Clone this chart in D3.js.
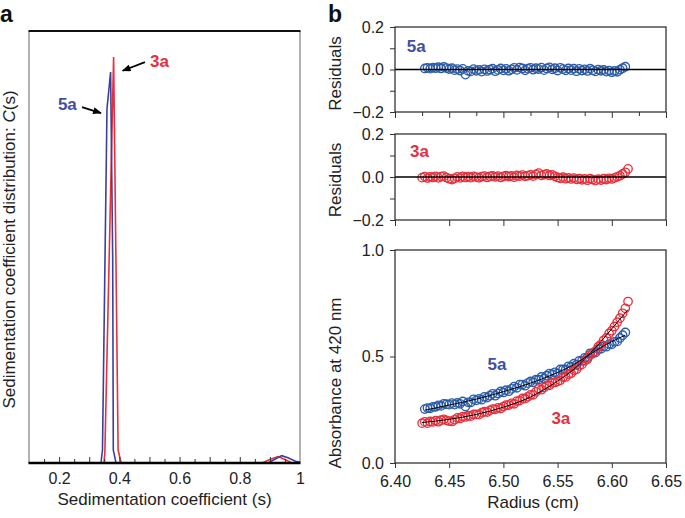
<!DOCTYPE html>
<html><head><meta charset="utf-8">
<script src="https://cdn.jsdelivr.net/npm/d3@7"></script>
<style>
html,body{margin:0;padding:0;background:#fff;}
svg{display:block;font-family:"Liberation Sans",Arial,Helvetica,sans-serif;}
</style></head><body>
<svg id="chart" width="685" height="518"></svg>
<script>
// ---------- Panel a data: sedimentation coefficient distribution C(s) ----------
const sBlue = [0.10, 0.33, 0.339, 0.344, 0.359, 0.371, 0.378, 0.380, 0.389, 0.85, 0.894, 0.915, 0.939, 0.96, 0.985, 1.0];
const cBlue = [0, 0, 0, 0.03, 0.82, 0.905, 0.47, 0.03, 0, 0, 0, 0.008, 0.017, 0.012, 0.004, 0.002];
const sRed  = [0.10, 0.349, 0.352, 0.381, 0.396, 0.406, 0.85, 0.874, 0.90, 0.927, 0.95, 0.973, 1.0];
const cRed  = [0, 0, 0.025, 0.94, 0.03, 0, 0, 0, 0.008, 0.015, 0.008, 0, 0];
const aTickLabels = [0.2, 0.4, 0.6, 0.8, 1];
const aMajorTicks = [0.2, 0.3, 0.4, 0.5, 0.6, 0.7, 0.8, 0.9];
const aMinorTicks = [0.15, 0.25, 0.35, 0.45, 0.55, 0.65, 0.75, 0.85, 0.95];

// ---------- Panel b data ----------
const radius5a = [6.4275,6.43,6.4325,6.435,6.4375,6.44,6.4425,6.445,6.4475,6.45,6.4525,6.455,6.4575,6.46,6.4625,6.465,6.4675,6.47,6.4725,6.475,6.4775,6.48,6.4825,6.485,6.4875,6.49,6.4925,6.495,6.4975,6.5,6.5025,6.505,6.5075,6.51,6.5125,6.515,6.5175,6.52,6.5225,6.525,6.5275,6.53,6.5325,6.535,6.5375,6.54,6.5425,6.545,6.5475,6.55,6.5525,6.555,6.5575,6.56,6.5625,6.565,6.5675,6.57,6.5725,6.575,6.5775,6.58,6.5825,6.585,6.5875,6.59,6.5925,6.595,6.5975,6.6,6.6025,6.605,6.6075,6.61,6.6125];
const abs5a = [0.253,0.258,0.257,0.264,0.264,0.271,0.268,0.278,0.276,0.274,
  0.281,0.274,0.282,0.278,0.289,0.265,0.285,0.285,0.299,0.294,
  0.301,0.297,0.311,0.307,0.316,0.325,0.316,0.326,0.336,0.331,
  0.342,0.337,0.348,0.359,0.353,0.368,0.368,0.363,0.375,0.383,
  0.379,0.391,0.392,0.404,0.397,0.410,0.420,0.416,0.426,0.420,
  0.439,0.439,0.439,0.454,0.452,0.466,0.461,0.480,0.480,0.494,
  0.495,0.515,0.515,0.518,0.535,0.536,0.547,0.546,0.558,0.557,
  0.569,0.571,0.587,0.600,0.613];
const resid5a = [0.005,0.008,0.004,0.009,0.006,0.011,0.005,0.012,0.007,0.002,
  0.006,-0.003,0.002,-0.005,0.003,-0.024,-0.006,-0.009,0.002,-0.006,
  -0.002,-0.010,0.001,-0.007,-0.001,0.004,-0.008,-0.002,0.005,-0.004,
  0.003,-0.006,0.001,0.008,-0.002,0.009,0.005,-0.004,0.004,0.008,
  -0.001,0.006,0.002,0.009,-0.003,0.005,0.010,0.001,0.006,-0.005,
  0.008,0.002,-0.004,0.005,-0.003,0.004,-0.008,0.003,-0.005,0.001,
  -0.007,0.004,-0.004,-0.009,0.000,-0.006,-0.002,-0.010,-0.005,-0.013,
  -0.007,-0.011,-0.001,0.006,0.013];

const radius3a = [6.425,6.4275,6.43,6.4325,6.435,6.4375,6.44,6.4425,6.445,6.4475,6.45,6.4525,6.455,6.4575,6.46,6.4625,6.465,6.4675,6.47,6.4725,6.475,6.4775,6.48,6.4825,6.485,6.4875,6.49,6.4925,6.495,6.4975,6.5,6.5025,6.505,6.5075,6.51,6.5125,6.515,6.5175,6.52,6.5225,6.525,6.5275,6.53,6.5325,6.535,6.5375,6.54,6.5425,6.545,6.5475,6.55,6.5525,6.555,6.5575,6.56,6.5625,6.565,6.5675,6.57,6.5725,6.575,6.5775,6.58,6.5825,6.585,6.5875,6.59,6.5925,6.595,6.5975,6.6,6.6025,6.605,6.6075,6.61,6.6125,6.615];
const abs3a = [0.187,0.193,0.187,0.195,0.193,0.199,0.194,0.201,0.205,0.200,
  0.197,0.195,0.203,0.212,0.209,0.218,0.216,0.222,0.220,0.228,
  0.228,0.227,0.236,0.241,0.239,0.247,0.253,0.252,0.259,0.256,
  0.265,0.272,0.272,0.280,0.278,0.291,0.293,0.303,0.302,0.311,
  0.320,0.320,0.334,0.347,0.344,0.354,0.364,0.365,0.376,0.378,
  0.383,0.388,0.402,0.404,0.417,0.421,0.435,0.440,0.456,0.463,
  0.480,0.487,0.507,0.516,0.525,0.546,0.556,0.576,0.587,0.608,
  0.621,0.641,0.661,0.680,0.703,0.726,0.758];
const resid3a = [-0.003,0.002,-0.005,0.001,-0.002,0.003,-0.004,0.002,0.004,-0.003,
  -0.008,-0.012,-0.006,0.001,-0.004,0.003,-0.002,0.002,-0.003,0.003,
  0.000,-0.004,0.002,0.004,-0.002,0.003,0.005,0.001,0.004,-0.002,
  0.003,0.006,0.002,0.005,-0.001,0.007,0.004,0.009,0.003,0.006,
  0.010,0.004,0.012,0.018,0.008,0.011,0.014,0.007,0.010,0.003,
  -0.002,-0.006,-0.001,-0.008,-0.004,-0.009,-0.005,-0.011,-0.007,-0.013,
  -0.009,-0.015,-0.008,-0.012,-0.017,-0.010,-0.014,-0.008,-0.012,-0.006,
  -0.009,-0.004,0.001,0.006,0.014,0.022,0.038];

const fitR5a = [6.4275, 6.45, 6.475, 6.50, 6.525, 6.55, 6.565, 6.58, 6.59, 6.60, 6.6125];
const fitA5a = [0.248, 0.272, 0.300, 0.335, 0.375, 0.425, 0.462, 0.511, 0.542, 0.570, 0.600];
const fitR3a = [6.425, 6.45, 6.475, 6.50, 6.525, 6.55, 6.565, 6.58, 6.59, 6.60, 6.615];
const fitA3a = [0.190, 0.205, 0.228, 0.262, 0.310, 0.385, 0.440, 0.515, 0.570, 0.630, 0.720];

const radiusTicks = [6.40, 6.45, 6.50, 6.55, 6.60, 6.65];
const radiusMinor = [6.425, 6.475, 6.525, 6.575, 6.625];
const residTicks = [-0.2, -0.1, 0, 0.1, 0.2];
const absTicks = [0, 0.5, 1.0];

// ---------- drawing ----------
const svg = d3.select("#chart");
const BLUE_A = "#3b3f9e", RED = "#e8303d", BLUE = "#2b5ca8", BLUE_LBL = "#3f50a3", RED_LBL = "#e3313f";
const CR = 4.2, CW = 1.35;
const defs = svg.append("defs");
defs.append("marker").attr("id","arr").attr("viewBox","0 0 10 8").attr("refX",9).attr("refY",4)
  .attr("markerWidth",9).attr("markerHeight",7).attr("markerUnits","userSpaceOnUse").attr("orient","auto")
  .append("path").attr("d","M0,0 L10,4 L0,8 z").attr("fill","#000");

function styleAxis(g){ g.select(".domain").remove(); g.selectAll(".tick line").attr("stroke","#333").attr("stroke-width",1);
  g.selectAll("text").attr("font-size",16).attr("fill","#222").attr("font-family","Liberation Sans, Arial, sans-serif"); }

// Panel a
const ax = d3.scaleLinear().domain([0.1, 1]).range([29, 300]);
const ay = d3.scaleLinear().domain([0, 1]).range([463, 31]);
const pa = svg.append("g");
const lineA = d3.line().x(d => ax(d[0])).y(d => ay(d[1]));
pa.append("path").datum(d3.zip(sRed, cRed)).attr("d", lineA).attr("fill","none").attr("stroke",RED).attr("stroke-width",1.6);
pa.append("path").datum(d3.zip(sBlue, cBlue)).attr("d", lineA).attr("fill","none").attr("stroke",BLUE_A).attr("stroke-width",1.6);
pa.append("line").attr("x1",ax(0.1)).attr("x2",ax(0.1)).attr("y1",ay(1)).attr("y2",ay(0)).attr("stroke","#666").attr("stroke-width",1);
pa.append("line").attr("x1",ax(1)).attr("x2",ax(1)).attr("y1",ay(1)).attr("y2",ay(0)).attr("stroke","#666").attr("stroke-width",1);
pa.append("line").attr("x1",ax(0.1)-0.5).attr("x2",ax(1)+0.5).attr("y1",ay(1)).attr("y2",ay(1)).attr("stroke","#111").attr("stroke-width",2);
pa.append("g").attr("transform",`translate(0,${ay(0)})`)
  .call(d3.axisBottom(ax).tickValues(aMinorTicks).tickSize(-4).tickFormat("")).call(styleAxis);
pa.append("g").attr("transform",`translate(0,${ay(0)})`)
  .call(d3.axisBottom(ax).tickValues(aMajorTicks).tickSize(-6).tickFormat("")).call(styleAxis);
pa.append("g").attr("transform",`translate(0,${ay(0)})`)
  .call(d3.axisBottom(ax).tickValues(aTickLabels).tickSize(0).tickPadding(10).tickFormat(d => d === 1 ? "1" : d3.format(".1f")(d))).call(styleAxis);
pa.append("line").attr("x1",ax(0.1)-0.5).attr("x2",ax(1)+0.5).attr("y1",ay(0)).attr("y2",ay(0)).attr("stroke","#000").attr("stroke-width",2.6);
pa.append("text").attr("x",(ax(0.1)+ax(1))/2).attr("y",505).attr("text-anchor","middle").attr("font-size",17).attr("fill","#222")
  .text("Sedimentation coefficient (s)");
const yl = pa.append("text").attr("transform","translate(15,249.5) rotate(-90)").attr("text-anchor","middle").attr("font-size",17).attr("fill","#222");
yl.append("tspan").text("Sedimentation coefficient distribution: ");
yl.append("tspan").attr("font-style","italic").text("C");
yl.append("tspan").text("(s)");
// annotations
pa.append("text").attr("x",ax(0.502)).attr("y",ay(0.917)).attr("font-size",17).attr("font-weight","bold").attr("fill",RED_LBL).text("3a");
pa.append("line").attr("x1",ax(0.485)).attr("y1",ay(0.928)).attr("x2",ax(0.411)).attr("y2",ay(0.908)).attr("stroke","#000").attr("stroke-width",1.8).attr("marker-end","url(#arr)");
pa.append("text").attr("x",ax(0.196)).attr("y",ay(0.817)).attr("font-size",17).attr("font-weight","bold").attr("fill",BLUE_LBL).text("5a");
pa.append("line").attr("x1",ax(0.276)).attr("y1",ay(0.824)).attr("x2",ax(0.339)).attr("y2",ay(0.810)).attr("stroke","#000").attr("stroke-width",1.8).attr("marker-end","url(#arr)");

svg.append("text").attr("x",0).attr("y",22).attr("font-size",23).attr("font-weight","bold").attr("fill","#111").text("a");
svg.append("text").attr("x",328).attr("y",21.5).attr("font-size",23).attr("font-weight","bold").attr("fill","#111").text("b");

// Panel b
const bx = d3.scaleLinear().domain([6.40, 6.65]).range([395, 666]);
function residPanel(yRange, radius, resid, color, label, labelPos, minor){
  const y = d3.scaleLinear().domain([-0.2, 0.2]).range(yRange);
  const g = svg.append("g");
  g.selectAll("circle").data(d3.zip(radius, resid)).join("circle")
    .attr("cx", d => bx(d[0])).attr("cy", d => y(d[1])).attr("r", CR)
    .attr("fill","none").attr("stroke", color).attr("stroke-width", CW);
  g.append("line").attr("x1",bx(6.40)).attr("x2",bx(6.65)).attr("y1",y(0)).attr("y2",y(0)).attr("stroke","#000").attr("stroke-width",1.5);
  g.append("rect").attr("x",bx(6.40)).attr("y",y(0.2)).attr("width",bx(6.65)-bx(6.40)).attr("height",y(-0.2)-y(0.2))
    .attr("fill","none").attr("stroke","#222").attr("stroke-width",1.2);
  g.append("g").attr("transform",`translate(${bx(6.40)},0)`)
    .call(d3.axisLeft(y).tickValues(residTicks).tickSize(5).tickPadding(6)
      .tickFormat(v => Math.abs(v) > 0.05 && Math.abs(v) < 0.15 ? "" : d3.format(".1f")(v))).call(styleAxis);
  g.append("g").attr("transform",`translate(0,${y(-0.2)})`)
    .call(d3.axisBottom(bx).tickValues(radiusTicks).tickSize(6).tickFormat("")).call(styleAxis);
  if (minor) g.append("g").attr("transform",`translate(0,${y(-0.2)})`)
    .call(d3.axisBottom(bx).tickValues(radiusMinor).tickSize(4).tickFormat("")).call(styleAxis);
  g.append("text").attr("x",bx(labelPos[0])).attr("y",y(labelPos[1])).attr("font-size",17).attr("font-weight","bold")
    .attr("fill", color === BLUE ? BLUE_LBL : RED_LBL).text(label);
  return y;
}
const r1y = residPanel([112, 27], radius5a, resid5a, BLUE, "5a", [6.4108, 0.084], true);
const r2y = residPanel([220, 134], radius3a, resid3a, RED, "3a", [6.4138, 0.091], false);
svg.append("text").attr("transform","translate(341,73.5) rotate(-90)").attr("text-anchor","middle").attr("font-size",17).attr("fill","#222").text("Residuals");
svg.append("text").attr("transform","translate(341,180) rotate(-90)").attr("text-anchor","middle").attr("font-size",17).attr("fill","#222").text("Residuals");

// main absorbance panel
const my = d3.scaleLinear().domain([0, 1]).range([463, 250]);
const pm = svg.append("g");
pm.append("g").selectAll("circle").data(d3.zip(radius5a, abs5a)).join("circle")
  .attr("cx", d => bx(d[0])).attr("cy", d => my(d[1])).attr("r", CR)
  .attr("fill","none").attr("stroke", BLUE).attr("stroke-width", CW);
pm.append("g").selectAll("circle").data(d3.zip(radius3a, abs3a)).join("circle")
  .attr("cx", d => bx(d[0])).attr("cy", d => my(d[1])).attr("r", CR)
  .attr("fill","none").attr("stroke", RED).attr("stroke-width", CW);
const fitLine = d3.line().x(d => bx(d[0])).y(d => my(d[1])).curve(d3.curveMonotoneX);
pm.append("path").datum(d3.zip(fitR5a, fitA5a)).attr("d", fitLine).attr("fill","none").attr("stroke","#000").attr("stroke-width",1);
pm.append("path").datum(d3.zip(fitR3a, fitA3a)).attr("d", fitLine).attr("fill","none").attr("stroke","#000").attr("stroke-width",1);
pm.append("rect").attr("x",bx(6.40)).attr("y",my(1)).attr("width",bx(6.65)-bx(6.40)).attr("height",my(0)-my(1))
  .attr("fill","none").attr("stroke","#222").attr("stroke-width",1.2);
pm.append("g").attr("transform",`translate(${bx(6.40)},0)`)
  .call(d3.axisLeft(my).tickValues(absTicks).tickSize(5).tickPadding(6).tickFormat(d3.format(".1f"))).call(styleAxis);
pm.append("g").attr("transform",`translate(0,${my(0)})`)
  .call(d3.axisBottom(bx).tickValues(radiusTicks).tickSize(5).tickPadding(8).tickFormat(d3.format(".2f"))).call(styleAxis);
pm.append("text").attr("x",bx(6.494)).attr("y",my(0.437)).attr("text-anchor","middle").attr("font-size",17).attr("font-weight","bold").attr("fill",BLUE_LBL).text("5a");
pm.append("text").attr("x",bx(6.553)).attr("y",my(0.185)).attr("text-anchor","middle").attr("font-size",17).attr("font-weight","bold").attr("fill",RED_LBL).text("3a");
svg.append("text").attr("transform","translate(341,383) rotate(-90)").attr("text-anchor","middle").attr("font-size",17).attr("fill","#222").text("Absorbance at 420 nm");
svg.append("text").attr("x",533).attr("y",508).attr("text-anchor","middle").attr("font-size",17).attr("fill","#222").text("Radius (cm)");
</script>
</body></html>
